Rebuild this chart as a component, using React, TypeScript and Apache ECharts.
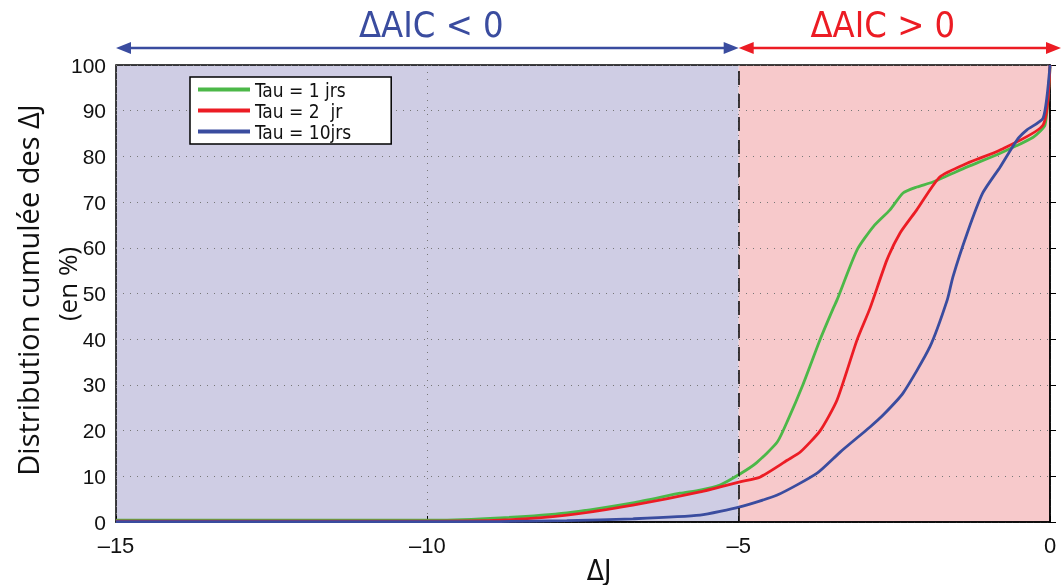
import React, { useEffect, useRef } from "react";
import * as echarts from "echarts";

const tau1: [number, number][] = [
  [-15, 0.4], [-12, 0.4], [-9.9, 0.4], [-8.83, 0.9], [-7.76, 2.0], [-6.7, 4.2], [-5.94, 6.3], [-5.62, 7.0],
  [-5.3, 8.1], [-4.98, 10.5], [-4.71, 13], [-4.38, 17.5], [-4.21, 22.3], [-3.97, 30], [-3.69, 40],
  [-3.48, 46.8], [-3.42, 48.6], [-3.1, 59.5], [-2.84, 64.6], [-2.57, 68.3], [-2.36, 72], [-2.14, 73.3],
  [-1.88, 74.4], [-1.33, 77.7], [-0.8, 80.7], [-0.27, 84.2], [-0.08, 86.9], [0, 99.6],
];
const tau2: [number, number][] = [
  [-15, 0.2], [-10, 0.2], [-8.83, 0.4], [-7.76, 1.5], [-6.7, 3.7], [-5.62, 6.6], [-4.98, 8.8],
  [-4.66, 9.8], [-4.22, 13.5], [-4.01, 15.3], [-3.69, 20], [-3.42, 26.7], [-3.1, 39.8], [-2.89, 46.8],
  [-2.62, 57.3], [-2.41, 63.2], [-2.14, 68.3], [-1.77, 75.5], [-1.33, 78.5], [-0.8, 81.4], [-0.11, 86.9], [0, 100],
];
const tau10: [number, number][] = [
  [-15, 0.1], [-10, 0.1], [-8.83, 0.1], [-7.76, 0.3], [-6.7, 0.7], [-5.62, 1.5], [-4.98, 3.3],
  [-4.38, 5.9], [-3.74, 10.7], [-3.37, 15.3], [-2.89, 20.8], [-2.68, 23.4], [-2.36, 28.2], [-1.93, 38.3],
  [-1.65, 48.6], [-1.56, 53.6], [-1.33, 63.2], [-1.08, 72], [-0.8, 77.7], [-0.53, 83.6], [-0.37, 85.8],
  [-0.11, 88.4], [0, 100],
];
const seriesNames = ["Tau = 1 jrs", "Tau = 2  jr", "Tau = 10jrs"];
const seriesColors = ["#4cb848", "#ec1c24", "#3a4c9f"];
const regionLabels = ["\u0394AIC < 0", "\u0394AIC > 0"];
const regionColors = ["#3a4c9f", "#ec1c24"];
const xAxisTitle = "\u0394J";
const yAxisTitle = ["Distribution cumulée des \u0394J", "(en %)"];
const threshold = -5;

const narrow = "'Liberation Sans Narrow', 'DejaVu Sans Condensed', sans-serif";
const sans = "'Liberation Sans', Arial, sans-serif";

export default function App() {
  const ref = useRef<HTMLDivElement>(null);
  useEffect(() => {
    if (!ref.current) return;
    const chart = echarts.init(ref.current, null, { renderer: "svg" });
    const lineSeries = [tau1, tau2, tau10].map((d, i) => ({
      name: seriesNames[i],
      type: "line",
      data: d,
      showSymbol: false,
      smooth: 0.2,
      z: 3,
      lineStyle: { color: seriesColors[i], width: 2.8 },
      itemStyle: { color: seriesColors[i] },
    }));
    chart.setOption({
      animation: false,
      grid: { left: 116, right: 14, top: 65, bottom: 63, outerBoundsMode: "none", containLabel: false, show: true, borderColor: "#000", borderWidth: 1.5, z: 2, backgroundColor: "transparent" },
      legend: {
        left: 190, top: 77, orient: "vertical",
        backgroundColor: "#fff", borderColor: "#000", borderWidth: 1.5,
        padding: [3, 40, 3, 8], itemGap: 2, itemWidth: 52, itemHeight: 4,
        icon: "rect",
        textStyle: { fontFamily: narrow, fontSize: 19, color: "#111" },
        data: seriesNames,
      },
      xAxis: {
        type: "value", min: -15, max: 0, interval: 5, z: 2,
        axisLine: { show: true, lineStyle: { color: "#000", width: 1.5 } },
        axisTick: { show: true, inside: true, length: 6, lineStyle: { color: "#000" } },
        axisLabel: { fontFamily: sans, fontSize: 22, color: "#111", margin: 12, formatter: (v: number) => (v < 0 ? "\u2013" + Math.abs(v) : String(v)) },
        splitLine: { show: true, lineStyle: { color: "#777", type: [1, 6], width: 1 } },
      },
      yAxis: {
        type: "value", min: 0, max: 100, interval: 10, z: 2,
        axisLine: { show: true, lineStyle: { color: "#000", width: 1.5 } },
        axisTick: { show: true, inside: true, length: 6, lineStyle: { color: "#000" } },
        axisLabel: { fontFamily: sans, fontSize: 21, color: "#111", margin: 10 },
        splitLine: { show: true, lineStyle: { color: "#777", type: [1, 6], width: 1 } },
      },
      series: [
        {
          type: "line", data: [], z: 0, silent: true,
          markArea: {
            silent: true, z: 0,
            data: [
              [{ xAxis: -15, yAxis: 0, itemStyle: { color: "#cfcde4" } }, { xAxis: threshold, yAxis: 100 }],
              [{ xAxis: threshold, yAxis: 0, itemStyle: { color: "#f7c9cb" } }, { xAxis: 0, yAxis: 100 }],
            ],
          },
        },
        ...lineSeries,
        {
          type: "line", data: [], z: 4, silent: true,
          markLine: {
            silent: true, symbol: "none", label: { show: false }, z: 4,
            lineStyle: { color: "#111", type: [14, 9], width: 1.6 },
            data: [[{ coord: [threshold, 0] }, { coord: [threshold, 100] }]],
          },
        },
      ],
    });
    const pL = chart.convertToPixel({ gridIndex: 0 }, [-15, 100]) as number[];
    const pM = chart.convertToPixel({ gridIndex: 0 }, [threshold, 100]) as number[];
    const pR = chart.convertToPixel({ gridIndex: 0 }, [0, 100]) as number[];
    const pB = chart.convertToPixel({ gridIndex: 0 }, [-7.5, 0]) as number[];
    const ay = pL[1] - 17;
    const rightEnd = pR[0] + 11;
    const arrow = (x1: number, x2: number, color: string) => [
      { type: "line", shape: { x1: x1 + 8, y1: ay, x2: x2 - 8, y2: ay }, style: { stroke: color, lineWidth: 2.6 } },
      { type: "polygon", shape: { points: [[x1, ay], [x1 + 15, ay - 6], [x1 + 15, ay + 6]] }, style: { fill: color } },
      { type: "polygon", shape: { points: [[x2, ay], [x2 - 15, ay - 6], [x2 - 15, ay + 6]] }, style: { fill: color } },
    ];
    chart.setOption({
      graphic: [
        ...arrow(pL[0], pM[0], regionColors[0]),
        ...arrow(pM[0], rightEnd, regionColors[1]),
        { type: "text", x: (pL[0] + pM[0]) / 2 + 4, y: ay - 24, style: { text: regionLabels[0], fill: regionColors[0], fontFamily: narrow, fontSize: 36, textAlign: "center", textVerticalAlign: "middle" } },
        { type: "text", x: (pM[0] + rightEnd) / 2 - 17, y: ay - 24, style: { text: regionLabels[1], fill: regionColors[1], fontFamily: narrow, fontSize: 36, textAlign: "center", textVerticalAlign: "middle" } },
        { type: "text", x: pB[0] + 16, y: pB[1] + 48, style: { text: xAxisTitle, fill: "#111", fontFamily: narrow, fontSize: 28, textAlign: "center", textVerticalAlign: "middle" } },
        { type: "text", x: 27, y: 290, rotation: Math.PI / 2, style: { text: yAxisTitle[0], fill: "#111", fontFamily: "'Open Sans', sans-serif", fontSize: 29, textAlign: "center", textVerticalAlign: "middle" } },
        { type: "text", x: 67, y: 284, rotation: Math.PI / 2, style: { text: yAxisTitle[1], fill: "#111", fontFamily: "'Open Sans', sans-serif", fontSize: 26, textAlign: "center", textVerticalAlign: "middle" } },
      ],
    });
    return () => chart.dispose();
  }, []);
  return <div ref={ref} style={{ position: "fixed", left: 0, top: 0, width: 1064, height: 585 }} />;
}
